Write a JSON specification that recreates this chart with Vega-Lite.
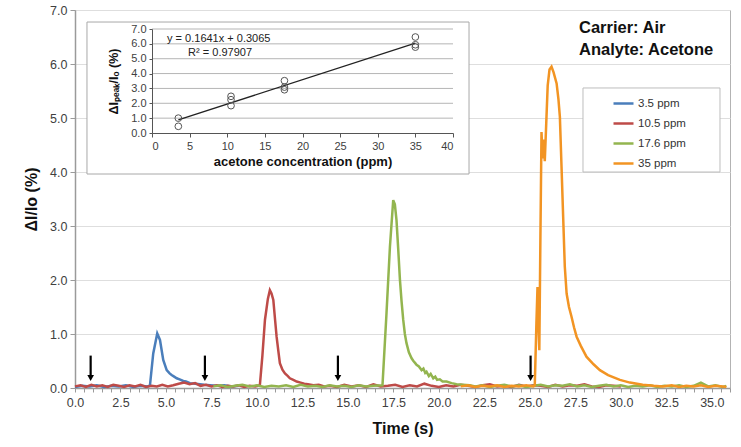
{
  "$schema": "https://vega.github.io/schema/vega-lite/v6.json",
  "autosize": "none",
  "padding": {"left": 75, "top": 10, "right": 11, "bottom": 59},
  "width": 655,
  "height": 378,
  "background": "white",
  "config": {
    "font": "Liberation Sans",
    "view": {"stroke": "#b3b3b3"},
    "axis": {"labelFont": "Liberation Sans", "titleFont": "Liberation Sans", "labelColor": "#404040", "titleColor": "#111111", "domainColor": "#9a9a9a", "tickColor": "#9a9a9a", "gridColor": "#dedede"}
  },
  "datasets": {
    "series": [
      {"s":"3.5 ppm","t":0,"v":0.02},{"s":"3.5 ppm","t":0.4,"v":0.04},{"s":"3.5 ppm","t":0.8,"v":0.03},{"s":"3.5 ppm","t":1.2,"v":0.05},{"s":"3.5 ppm","t":1.6,"v":0.02},{"s":"3.5 ppm","t":2,"v":0.04},{"s":"3.5 ppm","t":2.4,"v":0.03},{"s":"3.5 ppm","t":2.8,"v":0.05},{"s":"3.5 ppm","t":3.2,"v":0.02},{"s":"3.5 ppm","t":3.6,"v":0.04},{"s":"3.5 ppm","t":4,"v":0.03},{"s":"3.5 ppm","t":4.12,"v":0.05},{"s":"3.5 ppm","t":4.3,"v":0.64},{"s":"3.5 ppm","t":4.52,"v":1.01},{"s":"3.5 ppm","t":4.67,"v":0.89},{"s":"3.5 ppm","t":4.85,"v":0.52},{"s":"3.5 ppm","t":5.04,"v":0.33},{"s":"3.5 ppm","t":5.2,"v":0.27},{"s":"3.5 ppm","t":5.31,"v":0.24},{"s":"3.5 ppm","t":5.45,"v":0.21},{"s":"3.5 ppm","t":5.59,"v":0.18},{"s":"3.5 ppm","t":5.75,"v":0.16},{"s":"3.5 ppm","t":5.95,"v":0.13},{"s":"3.5 ppm","t":6.1,"v":0.12},{"s":"3.5 ppm","t":6.32,"v":0.09},{"s":"3.5 ppm","t":6.6,"v":0.08},{"s":"3.5 ppm","t":6.87,"v":0.07},{"s":"3.5 ppm","t":7.1,"v":0.06},{"s":"3.5 ppm","t":7.42,"v":0.05},{"s":"3.5 ppm","t":7.8,"v":0.04},{"s":"3.5 ppm","t":8.2,"v":0.05},{"s":"3.5 ppm","t":8.6,"v":0.03},{"s":"3.5 ppm","t":9,"v":0.04},

      {"s":"10.5 ppm","t":0,"v":0.03},{"s":"10.5 ppm","t":0.3,"v":0.05},{"s":"10.5 ppm","t":0.6,"v":0.02},{"s":"10.5 ppm","t":0.9,"v":0.06},{"s":"10.5 ppm","t":1.2,"v":0.03},{"s":"10.5 ppm","t":1.5,"v":0.05},{"s":"10.5 ppm","t":1.8,"v":0.02},{"s":"10.5 ppm","t":2.1,"v":0.06},{"s":"10.5 ppm","t":2.4,"v":0.04},{"s":"10.5 ppm","t":2.7,"v":0.02},{"s":"10.5 ppm","t":3,"v":0.05},{"s":"10.5 ppm","t":3.3,"v":0.03},{"s":"10.5 ppm","t":3.6,"v":0.06},{"s":"10.5 ppm","t":3.9,"v":0.02},{"s":"10.5 ppm","t":4.2,"v":0.04},{"s":"10.5 ppm","t":4.5,"v":0.03},{"s":"10.5 ppm","t":4.8,"v":0.06},{"s":"10.5 ppm","t":5.1,"v":0.03},{"s":"10.5 ppm","t":5.4,"v":0.05},{"s":"10.5 ppm","t":5.7,"v":0.08},{"s":"10.5 ppm","t":6,"v":0.1},{"s":"10.5 ppm","t":6.3,"v":0.07},{"s":"10.5 ppm","t":6.6,"v":0.09},{"s":"10.5 ppm","t":6.9,"v":0.04},{"s":"10.5 ppm","t":7.2,"v":0.06},{"s":"10.5 ppm","t":7.5,"v":0.03},{"s":"10.5 ppm","t":7.8,"v":0.05},{"s":"10.5 ppm","t":8.1,"v":0.02},{"s":"10.5 ppm","t":8.4,"v":0.04},{"s":"10.5 ppm","t":8.7,"v":0.03},{"s":"10.5 ppm","t":9,"v":0.05},{"s":"10.5 ppm","t":9.3,"v":0.02},{"s":"10.5 ppm","t":9.6,"v":0.04},{"s":"10.5 ppm","t":9.9,"v":0.03},{"s":"10.5 ppm","t":10.16,"v":0.05},{"s":"10.5 ppm","t":10.3,"v":0.6},{"s":"10.5 ppm","t":10.44,"v":1.26},{"s":"10.5 ppm","t":10.6,"v":1.65},{"s":"10.5 ppm","t":10.71,"v":1.81},{"s":"10.5 ppm","t":10.8,"v":1.75},{"s":"10.5 ppm","t":10.9,"v":1.63},{"s":"10.5 ppm","t":11,"v":1.25},{"s":"10.5 ppm","t":11.08,"v":0.95},{"s":"10.5 ppm","t":11.17,"v":0.7},{"s":"10.5 ppm","t":11.26,"v":0.46},{"s":"10.5 ppm","t":11.4,"v":0.34},{"s":"10.5 ppm","t":11.54,"v":0.27},{"s":"10.5 ppm","t":11.7,"v":0.22},{"s":"10.5 ppm","t":11.81,"v":0.18},{"s":"10.5 ppm","t":12,"v":0.15},{"s":"10.5 ppm","t":12.18,"v":0.12},{"s":"10.5 ppm","t":12.4,"v":0.1},{"s":"10.5 ppm","t":12.6,"v":0.08},{"s":"10.5 ppm","t":12.8,"v":0.07},{"s":"10.5 ppm","t":13.1,"v":0.05},{"s":"10.5 ppm","t":13.4,"v":0.06},{"s":"10.5 ppm","t":13.7,"v":0.03},{"s":"10.5 ppm","t":14,"v":0.04},{"s":"10.5 ppm","t":14.4,"v":0.02},{"s":"10.5 ppm","t":14.8,"v":0.06},{"s":"10.5 ppm","t":15.2,"v":0.03},{"s":"10.5 ppm","t":15.6,"v":0.05},{"s":"10.5 ppm","t":16,"v":0.02},{"s":"10.5 ppm","t":16.4,"v":0.07},{"s":"10.5 ppm","t":16.8,"v":0.03},{"s":"10.5 ppm","t":17.2,"v":0.04},{"s":"10.5 ppm","t":17.6,"v":0.06},{"s":"10.5 ppm","t":18,"v":0.02},{"s":"10.5 ppm","t":18.4,"v":0.05},{"s":"10.5 ppm","t":18.8,"v":0.03},{"s":"10.5 ppm","t":19.2,"v":0.08},{"s":"10.5 ppm","t":19.6,"v":0.04},{"s":"10.5 ppm","t":20,"v":0.02},{"s":"10.5 ppm","t":20.4,"v":0.05},{"s":"10.5 ppm","t":20.8,"v":0.03},{"s":"10.5 ppm","t":21.2,"v":0.06},{"s":"10.5 ppm","t":21.6,"v":0.04},{"s":"10.5 ppm","t":22,"v":0.02},{"s":"10.5 ppm","t":22.4,"v":0.05},{"s":"10.5 ppm","t":22.8,"v":0.07},{"s":"10.5 ppm","t":23.2,"v":0.03},{"s":"10.5 ppm","t":23.6,"v":0.04},{"s":"10.5 ppm","t":24,"v":0.02},{"s":"10.5 ppm","t":24.4,"v":0.06},{"s":"10.5 ppm","t":24.8,"v":0.03},{"s":"10.5 ppm","t":25.2,"v":0.05},{"s":"10.5 ppm","t":25.6,"v":0.04},{"s":"10.5 ppm","t":26,"v":0.02},{"s":"10.5 ppm","t":26.4,"v":0.06},{"s":"10.5 ppm","t":26.8,"v":0.03},{"s":"10.5 ppm","t":27.2,"v":0.05},{"s":"10.5 ppm","t":27.6,"v":0.04},{"s":"10.5 ppm","t":28,"v":0.07},{"s":"10.5 ppm","t":28.4,"v":0.03},{"s":"10.5 ppm","t":28.8,"v":0.02},{"s":"10.5 ppm","t":29.2,"v":0.05},{"s":"10.5 ppm","t":29.6,"v":0.04},{"s":"10.5 ppm","t":30,"v":0.03},

      {"s":"17.6 ppm","t":7.6,"v":0.03},{"s":"17.6 ppm","t":8,"v":0.05},{"s":"17.6 ppm","t":8.4,"v":0.02},{"s":"17.6 ppm","t":8.8,"v":0.04},{"s":"17.6 ppm","t":9.2,"v":0.06},{"s":"17.6 ppm","t":9.6,"v":0.03},{"s":"17.6 ppm","t":10,"v":0.05},{"s":"17.6 ppm","t":10.4,"v":0.02},{"s":"17.6 ppm","t":10.8,"v":0.04},{"s":"17.6 ppm","t":11.2,"v":0.03},{"s":"17.6 ppm","t":11.6,"v":0.05},{"s":"17.6 ppm","t":12,"v":0.02},{"s":"17.6 ppm","t":12.4,"v":0.06},{"s":"17.6 ppm","t":12.8,"v":0.03},{"s":"17.6 ppm","t":13.2,"v":0.04},{"s":"17.6 ppm","t":13.6,"v":0.02},{"s":"17.6 ppm","t":14,"v":0.05},{"s":"17.6 ppm","t":14.4,"v":0.03},{"s":"17.6 ppm","t":14.8,"v":0.04},{"s":"17.6 ppm","t":15.2,"v":0.02},{"s":"17.6 ppm","t":15.6,"v":0.05},{"s":"17.6 ppm","t":16,"v":0.03},{"s":"17.6 ppm","t":16.4,"v":0.04},{"s":"17.6 ppm","t":16.9,"v":0.05},{"s":"17.6 ppm","t":17.12,"v":1.38},{"s":"17.6 ppm","t":17.31,"v":2.62},{"s":"17.6 ppm","t":17.49,"v":3.48},{"s":"17.6 ppm","t":17.58,"v":3.4},{"s":"17.6 ppm","t":17.67,"v":3.11},{"s":"17.6 ppm","t":17.76,"v":2.6},{"s":"17.6 ppm","t":17.86,"v":2.0},{"s":"17.6 ppm","t":17.95,"v":1.6},{"s":"17.6 ppm","t":18.04,"v":1.26},{"s":"17.6 ppm","t":18.13,"v":1.0},{"s":"17.6 ppm","t":18.22,"v":0.83},{"s":"17.6 ppm","t":18.35,"v":0.66},{"s":"17.6 ppm","t":18.5,"v":0.55},{"s":"17.6 ppm","t":18.6,"v":0.5},{"s":"17.6 ppm","t":18.7,"v":0.46},{"s":"17.6 ppm","t":18.77,"v":0.43},{"s":"17.6 ppm","t":18.9,"v":0.4},{"s":"17.6 ppm","t":19.05,"v":0.33},{"s":"17.6 ppm","t":19.15,"v":0.36},{"s":"17.6 ppm","t":19.25,"v":0.28},{"s":"17.6 ppm","t":19.32,"v":0.3},{"s":"17.6 ppm","t":19.45,"v":0.22},{"s":"17.6 ppm","t":19.55,"v":0.26},{"s":"17.6 ppm","t":19.69,"v":0.18},{"s":"17.6 ppm","t":19.8,"v":0.21},{"s":"17.6 ppm","t":19.9,"v":0.15},{"s":"17.6 ppm","t":20.05,"v":0.16},{"s":"17.6 ppm","t":20.2,"v":0.12},{"s":"17.6 ppm","t":20.42,"v":0.12},{"s":"17.6 ppm","t":20.7,"v":0.09},{"s":"17.6 ppm","t":20.97,"v":0.07},{"s":"17.6 ppm","t":21.3,"v":0.06},{"s":"17.6 ppm","t":21.7,"v":0.05},{"s":"17.6 ppm","t":22,"v":0.03},{"s":"17.6 ppm","t":22.4,"v":0.05},{"s":"17.6 ppm","t":22.8,"v":0.02},{"s":"17.6 ppm","t":23.2,"v":0.04},{"s":"17.6 ppm","t":23.6,"v":0.06},{"s":"17.6 ppm","t":24,"v":0.03},{"s":"17.6 ppm","t":24.4,"v":0.05},{"s":"17.6 ppm","t":24.8,"v":0.02},{"s":"17.6 ppm","t":25.2,"v":0.04},{"s":"17.6 ppm","t":25.6,"v":0.06},{"s":"17.6 ppm","t":26,"v":0.03},{"s":"17.6 ppm","t":26.4,"v":0.05},{"s":"17.6 ppm","t":26.8,"v":0.04},{"s":"17.6 ppm","t":27.2,"v":0.07},{"s":"17.6 ppm","t":27.6,"v":0.03},{"s":"17.6 ppm","t":28,"v":0.05},{"s":"17.6 ppm","t":28.4,"v":0.02},{"s":"17.6 ppm","t":28.8,"v":0.04},{"s":"17.6 ppm","t":29.2,"v":0.06},{"s":"17.6 ppm","t":29.6,"v":0.03},{"s":"17.6 ppm","t":30,"v":0.05},{"s":"17.6 ppm","t":30.4,"v":0.02},{"s":"17.6 ppm","t":30.8,"v":0.04},{"s":"17.6 ppm","t":31.2,"v":0.03},{"s":"17.6 ppm","t":31.6,"v":0.05},{"s":"17.6 ppm","t":32,"v":0.02},{"s":"17.6 ppm","t":32.4,"v":0.04},{"s":"17.6 ppm","t":32.8,"v":0.03},{"s":"17.6 ppm","t":33.2,"v":0.05},{"s":"17.6 ppm","t":33.6,"v":0.02},{"s":"17.6 ppm","t":34,"v":0.04},{"s":"17.6 ppm","t":34.4,"v":0.1},{"s":"17.6 ppm","t":34.8,"v":0.03},{"s":"17.6 ppm","t":35.2,"v":0.05},{"s":"17.6 ppm","t":35.6,"v":0.02},{"s":"17.6 ppm","t":35.8,"v":0.04},

      {"s":"35 ppm","t":21.2,"v":0.03},{"s":"35 ppm","t":21.6,"v":0.05},{"s":"35 ppm","t":22,"v":0.02},{"s":"35 ppm","t":22.4,"v":0.04},{"s":"35 ppm","t":22.8,"v":0.03},{"s":"35 ppm","t":23.2,"v":0.05},{"s":"35 ppm","t":23.6,"v":0.02},{"s":"35 ppm","t":24,"v":0.04},{"s":"35 ppm","t":24.4,"v":0.03},{"s":"35 ppm","t":24.8,"v":0.05},{"s":"35 ppm","t":25.2,"v":0.03},{"s":"35 ppm","t":25.27,"v":0.05},{"s":"35 ppm","t":25.36,"v":1.2},{"s":"35 ppm","t":25.42,"v":1.87},{"s":"35 ppm","t":25.47,"v":1.2},{"s":"35 ppm","t":25.52,"v":0.7},{"s":"35 ppm","t":25.58,"v":2.8},{"s":"35 ppm","t":25.64,"v":4.74},{"s":"35 ppm","t":25.7,"v":4.25},{"s":"35 ppm","t":25.76,"v":4.6},{"s":"35 ppm","t":25.82,"v":4.2},{"s":"35 ppm","t":25.9,"v":4.9},{"s":"35 ppm","t":25.98,"v":5.6},{"s":"35 ppm","t":26.08,"v":5.9},{"s":"35 ppm","t":26.19,"v":5.95},{"s":"35 ppm","t":26.3,"v":5.85},{"s":"35 ppm","t":26.47,"v":5.64},{"s":"35 ppm","t":26.57,"v":5.35},{"s":"35 ppm","t":26.65,"v":5.02},{"s":"35 ppm","t":26.74,"v":4.1},{"s":"35 ppm","t":26.83,"v":3.17},{"s":"35 ppm","t":26.92,"v":2.25},{"s":"35 ppm","t":27.02,"v":1.75},{"s":"35 ppm","t":27.15,"v":1.5},{"s":"35 ppm","t":27.29,"v":1.32},{"s":"35 ppm","t":27.43,"v":1.12},{"s":"35 ppm","t":27.57,"v":0.95},{"s":"35 ppm","t":27.8,"v":0.78},{"s":"35 ppm","t":28.11,"v":0.58},{"s":"35 ppm","t":28.5,"v":0.44},{"s":"35 ppm","t":28.85,"v":0.33},{"s":"35 ppm","t":29.3,"v":0.24},{"s":"35 ppm","t":29.95,"v":0.15},{"s":"35 ppm","t":30.5,"v":0.1},{"s":"35 ppm","t":31.2,"v":0.06},{"s":"35 ppm","t":31.8,"v":0.04},{"s":"35 ppm","t":32.3,"v":0.03},{"s":"35 ppm","t":32.8,"v":0.05},{"s":"35 ppm","t":33.2,"v":0.02},{"s":"35 ppm","t":33.6,"v":0.04},{"s":"35 ppm","t":34,"v":0.03},{"s":"35 ppm","t":34.4,"v":0.05},{"s":"35 ppm","t":34.8,"v":0.02},{"s":"35 ppm","t":35.2,"v":0.04},{"s":"35 ppm","t":35.6,"v":0.03},{"s":"35 ppm","t":35.8,"v":0.02}
    ],
    "arrows": [{"t":0.86},{"t":7.14},{"t":14.45},{"t":25.04}],
    "calib": [
      {"c":3.5,"r":1.0},{"c":3.5,"r":0.45},
      {"c":10.5,"r":2.47},{"c":10.5,"r":2.24},{"c":10.5,"r":1.84},
      {"c":17.6,"r":3.52},{"c":17.6,"r":3.09},{"c":17.6,"r":2.91},
      {"c":35,"r":6.46},{"c":35,"r":5.94},{"c":35,"r":5.78}
    ],
    "fit": [{"c":3.5,"f":0.881},{"c":35,"f":6.05}],
    "insetGrid": [{"g":1},{"g":2},{"g":3},{"g":4},{"g":5},{"g":6},{"g":7}]
  },
  "layer": [
    {
      "layer": [
        {
          "data": {"name": "series"},
          "mark": {"type": "line", "strokeWidth": 2.5},
          "encoding": {
            "x": {"field": "t", "type": "quantitative",
              "scale": {"domain": [0, 36], "nice": false, "zero": false},
              "axis": {"title": "Time (s)", "tickCount": 200,
                "values": [0,0.5,1,1.5,2,2.5,3,3.5,4,4.5,5,5.5,6,6.5,7,7.5,8,8.5,9,9.5,10,10.5,11,11.5,12,12.5,13,13.5,14,14.5,15,15.5,16,16.5,17,17.5,18,18.5,19,19.5,20,20.5,21,21.5,22,22.5,23,23.5,24,24.5,25,25.5,26,26.5,27,27.5,28,28.5,29,29.5,30,30.5,31,31.5,32,32.5,33,33.5,34,34.5,35,35.5,36],
                "labelExpr": "datum.value % 2.5 === 0 ? format(datum.value, '.1f') : ''",
                "labelOverlap": false, "labelBound": false, "labelFlush": false, "grid": false, "tickSize": 4, "labelFontSize": 12.5, "labelPadding": 4,
                "titleFontSize": 16, "titleFontWeight": "bold", "titlePadding": 12, "domainWidth": 1.5}},
            "y": {"field": "v", "type": "quantitative",
              "scale": {"domain": [0, 7], "nice": false, "zero": false},
              "axis": {"title": "ΔI/Io (%)", "values": [0,1,2,3,4,5,6,7], "tickCount": 20, "format": ".1f", "grid": true,
                "tickSize": 5, "labelFontSize": 12.5, "labelPadding": 3, "titleFontSize": 16, "titleFontWeight": "bold",
                "titlePadding": 10, "domainWidth": 1.5}},
            "color": {"field": "s", "type": "nominal",
              "scale": {"domain": ["3.5 ppm", "10.5 ppm", "17.6 ppm", "35 ppm"], "range": ["#4a7ebb", "#be4b48", "#93b54f", "#f29423"]},
              "legend": {"orient": "none", "legendX": 537, "legendY": 82, "title": null, "symbolType": "stroke",
                "symbolSize": 400, "symbolStrokeWidth": 2.5, "labelFontSize": 11.5, "labelColor": "#333333",
                "rowPadding": 3, "labelOffset": 3, "padding": 0}}
          }
        },
        {
          "data": {"name": "arrows"},
          "mark": {"type": "rule", "color": "black", "strokeWidth": 2.2},
          "encoding": {"x": {"field": "t", "type": "quantitative"}, "y": {"datum": 0.6}, "y2": {"datum": 0.24}}
        },
        {
          "data": {"name": "arrows"},
          "mark": {"type": "point", "shape": "triangle-down", "filled": true, "color": "black", "size": 45, "opacity": 1},
          "encoding": {"x": {"field": "t", "type": "quantitative"}, "y": {"datum": 0.185}}
        },
        {
          "data": {"values": [{}]},
          "mark": {"type": "text", "text": "Carrier: Air", "align": "left", "baseline": "middle", "fontSize": 16.5, "fontWeight": "bold", "color": "#111111"},
          "encoding": {"x": {"datum": 27.7}, "y": {"datum": 6.67}}
        },
        {
          "data": {"values": [{}]},
          "mark": {"type": "text", "text": "Analyte: Acetone", "align": "left", "baseline": "middle", "fontSize": 16.5, "fontWeight": "bold", "color": "#111111"},
          "encoding": {"x": {"datum": 27.7}, "y": {"datum": 6.26}}
        },
        {
          "data": {"values": [{}]},
          "mark": {"type": "rect", "fill": "white", "stroke": "#bdbdbd", "strokeWidth": 1},
          "encoding": {"x": {"datum": 27.92}, "x2": {"datum": 35.45}, "y": {"datum": 5.556}, "y2": {"datum": 4.0}}
        }
      ]
    },
    {
      "layer": [
        {
          "data": {"values": [{}]},
          "mark": {"type": "rect", "fill": "white", "stroke": "#a8a8a8", "strokeWidth": 1},
          "encoding": {
            "x": {"datum": -8.64, "type": "quantitative",
              "scale": {"domain": [0, 40], "range": [77, 378], "nice": false, "zero": false},
              "axis": {"orient": "bottom", "offset": -255, "zindex": 1, "title": "acetone concentration (ppm)",
                "values": [0,5,10,15,20,25,30,35,40], "tickCount": 20, "format": "d", "grid": false, "tickSize": 4,
                "labelFontSize": 11, "labelPadding": 3, "titleFontSize": 13, "titleFontWeight": "bold", "titlePadding": 4,
                "domainColor": "#555555", "tickColor": "#555555", "domainWidth": 1}},
            "x2": {"datum": 42.13},
            "y": {"datum": 7.47, "type": "quantitative",
              "scale": {"domain": [0, 7], "range": [123, 19], "nice": false, "zero": false},
              "axis": {"orient": "left", "offset": -77, "zindex": 1, "title": "ΔIₚₑₐₖ/Iₒ (%)",
                "values": [0,1,2,3,4,5,6,7], "tickCount": 20, "format": ".1f", "grid": false, "tickSize": 3,
                "labelFontSize": 11, "labelPadding": 3, "titleFontSize": 12.5, "titleFontWeight": "bold", "titlePadding": 10,
                "domainColor": "#555555", "tickColor": "#555555", "domainWidth": 1}},
            "y2": {"datum": -2.76}
          }
        },
        {
          "data": {"name": "insetGrid"},
          "mark": {"type": "rule", "color": "#b5b5b5", "strokeWidth": 1},
          "encoding": {"x": {"datum": 0}, "x2": {"datum": 40}, "y": {"field": "g", "type": "quantitative"}}
        },
        {
          "data": {"name": "fit"},
          "mark": {"type": "line", "color": "#222222", "strokeWidth": 1.2},
          "encoding": {"x": {"field": "c", "type": "quantitative"}, "y": {"field": "f", "type": "quantitative"}}
        },
        {
          "data": {"name": "calib"},
          "mark": {"type": "point", "shape": "circle", "filled": false, "color": "#555555", "size": 45, "strokeWidth": 1, "opacity": 1},
          "encoding": {"x": {"field": "c", "type": "quantitative"}, "y": {"field": "r", "type": "quantitative"}}
        },
        {
          "data": {"values": [{}]},
          "mark": {"type": "text", "text": "y = 0.1641x + 0.3065", "align": "left", "baseline": "middle", "fontSize": 11, "color": "#222222"},
          "encoding": {"x": {"datum": 2.0}, "y": {"datum": 6.33}}
        },
        {
          "data": {"values": [{}]},
          "mark": {"type": "text", "text": "R² = 0.97907", "align": "left", "baseline": "middle", "fontSize": 11, "color": "#222222"},
          "encoding": {"x": {"datum": 4.8}, "y": {"datum": 5.38}}
        }
      ]
    }
  ],
  "resolve": {"scale": {"x": "independent", "y": "independent"}}
}
